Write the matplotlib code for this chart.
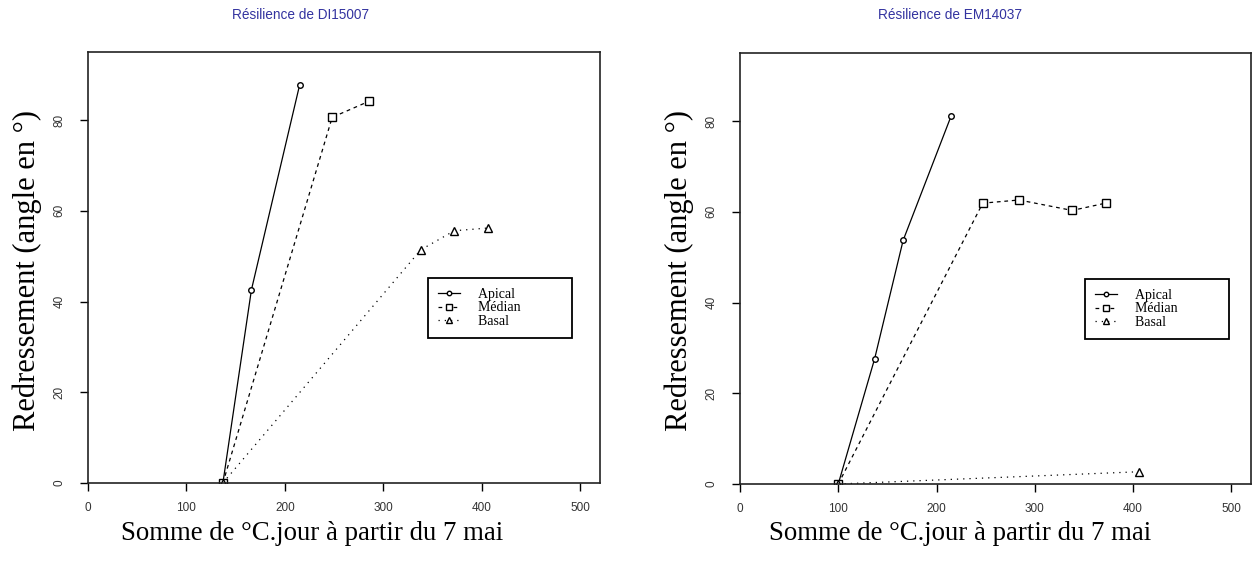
import matplotlib
matplotlib.use("Agg")
import matplotlib.pyplot as plt

# Données
titles = ["Résilience de DI15007", "Résilience de EM14037"]
series_names = ["Apical", "Médian", "Basal"]

# DI15007
di_apical_x = [137, 166, 215]
di_apical_y = [0, 42.6, 87.8]
di_median_x = [137, 248, 285]
di_median_y = [0, 80.6, 84.1]
di_basal_x = [137, 338, 372, 406]
di_basal_y = [0, 51.4, 55.6, 56.2]

# EM14037
em_apical_x = [100, 137, 166, 215]
em_apical_y = [0, 27.6, 53.7, 81.2]
em_median_x = [100, 247, 284, 338, 372]
em_median_y = [0, 61.9, 62.6, 60.3, 61.9]
em_basal_x = [100, 406]
em_basal_y = [0, 2.7]

xticks = [0, 100, 200, 300, 400, 500]
yticks = [0, 20, 40, 60, 80]

xlabel = "Somme de °C.jour à partir du 7 mai"
ylabel = "Redressement (angle en °)"

SANS = "Liberation Sans"
SERIF = "Liberation Serif"
W, H = 1252, 563

fig = plt.figure(figsize=(W / 100, H / 100), dpi=100)

styles = [
    dict(linestyle="-", marker="o", markersize=4.0),
    dict(linestyle=(0, (3, 3)), marker="s", markersize=5.5),
    dict(linestyle=(0, (1, 4)), marker="^", markersize=6),
]

panels = [
    dict(rect=[88 / W, 1 - 483 / H, 512 / W, 431 / H],
         data=[(di_apical_x, di_apical_y), (di_median_x, di_median_y), (di_basal_x, di_basal_y)],
         title_x=301, label_x=312, ylab_x=27, leg_x=0.664),
    dict(rect=[740 / W, 1 - 484 / H, 511 / W, 431 / H],
         data=[(em_apical_x, em_apical_y), (em_median_x, em_median_y), (em_basal_x, em_basal_y)],
         title_x=950, label_x=960, ylab_x=679, leg_x=0.675),
]

for i, p in enumerate(panels):
    ax = fig.add_axes(p["rect"])
    for (x, y), name, st in zip(p["data"], series_names, styles):
        ax.plot(x, y, color="black", linewidth=0.9, markerfacecolor="white",
                markeredgecolor="black", markeredgewidth=1.0, label=name, **st)
    ax.set_xlim(0, 520)
    ax.set_ylim(0, 95)
    ax.set_xticks(xticks)
    ax.set_yticks(yticks)
    ax.set_xticklabels([str(v) for v in xticks], fontfamily=SANS, fontsize=8.5, color="#333333")
    ax.set_yticklabels([str(v) for v in yticks], fontfamily=SANS, fontsize=8.5, color="#333333",
                       rotation=90, va="center")
    ax.tick_params(axis="x", direction="out", length=6, width=1, pad=8)
    ax.tick_params(axis="y", direction="out", length=6, width=1, pad=10)
    for s in ax.spines.values():
        s.set_linewidth(1.2)
        s.set_color("#222222")

    leg = ax.legend(loc="upper left", bbox_to_anchor=(p["leg_x"], 0.4756),
                    prop={"family": SERIF, "size": 10}, frameon=True, fancybox=False,
                    edgecolor="black", framealpha=1, handlelength=1.6, handletextpad=1.3,
                    labelspacing=0.05, borderpad=0.7, borderaxespad=0, markerscale=0.8)
    leg.get_frame().set_linewidth(1.3)
    # élargir le cadre comme dans l'original
    for t in leg.get_texts():
        t.set_text(t.get_text() + "            ")

    fig.text(p["title_x"] / W, 1 - 15 / H, titles[i], ha="center", va="center",
             fontfamily=SANS, fontsize=9.8, color="#3333a0")
    fig.text(p["label_x"] / W, 1 - 533 / H, xlabel, ha="center", va="center",
             fontfamily=SERIF, fontsize=19.3)
    fig.text(p["ylab_x"] / W, 1 - 271 / H, ylabel, ha="center", va="center",
             rotation=90, fontfamily=SERIF, fontsize=22)

fig.savefig("out.png", dpi=100)
